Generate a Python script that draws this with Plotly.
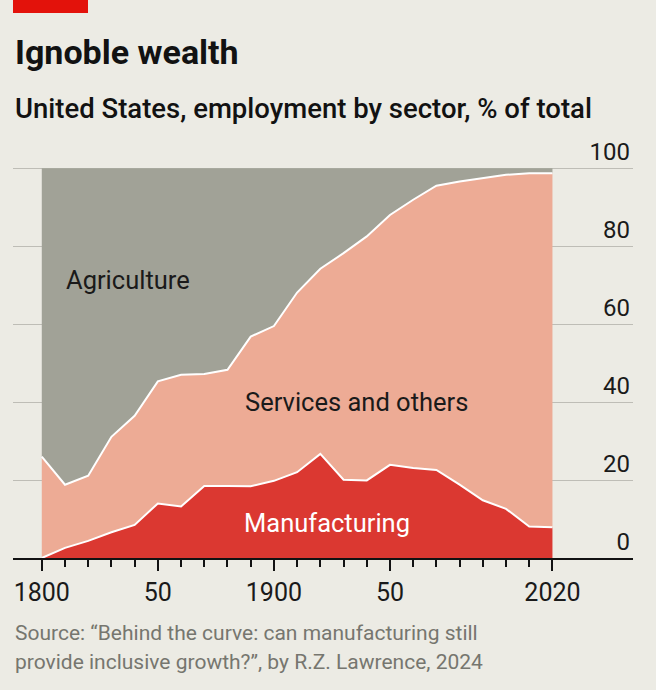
import plotly.graph_objects as go

# employment by sector, % of total
years = list(range(1800, 2021, 10))
manufacturing = [0, 2.6, 4.4, 6.6, 8.5, 14.0, 13.2, 18.5, 18.5, 18.4, 19.8, 22.0,
                 26.7, 20.1, 19.9, 23.9, 23.1, 22.6, 18.8, 14.8, 12.6, 8.1, 7.9]
services = [26.0, 16.2, 16.7, 24.5, 28.0, 31.3, 33.8, 28.7, 29.8, 38.4, 39.7, 46.1,
            47.5, 58.1, 62.6, 64.1, 68.8, 72.9, 77.8, 82.6, 85.7, 90.6, 90.8]
agriculture = [74.0, 81.2, 78.9, 68.9, 63.5, 54.7, 53.0, 52.8, 51.7, 43.2, 40.5, 31.9,
               25.8, 21.8, 17.5, 12.0, 8.1, 4.5, 3.4, 2.6, 1.7, 1.3, 1.3]

x_tickvals = [1800, 1850, 1900, 1950, 2000, 2020]
x_ticktext = ["1800", "50", "1900", "50", "", "2020"]
y_tickvals = [0, 20, 40, 60, 80, 100]

BG = "#ECEBE4"
FONT = "Roboto"
W, H = 656, 690
M_L, M_R, M_T, M_B = 13, 23, 137, 132
PLOT_H = H - M_T - M_B
PLOT_W = W - M_L - M_R


def py(p):
    # pixel row -> paper y
    return (H - M_B - p) / PLOT_H


def px(p):
    return (p - M_L) / PLOT_W


fig = go.Figure()
fig.add_trace(go.Scatter(x=years, y=manufacturing, stackgroup="one", mode="lines",
                         fillcolor="#DB3831", line=dict(color="white", width=2)))
fig.add_trace(go.Scatter(x=years, y=services, stackgroup="one", mode="lines",
                         fillcolor="#EDAB95", line=dict(color="white", width=2)))
fig.add_trace(go.Scatter(x=years, y=agriculture, stackgroup="one", mode="lines",
                         fillcolor="#A1A297", line=dict(color="#A1A297", width=0)))

# labels inside the areas
fig.add_annotation(x=1837, y=71.4, text="Agriculture", showarrow=False,
                   font=dict(family=FONT, size=25.5, color="#1a1a1a"))
fig.add_annotation(x=1935.4, y=39.9, text="Services and others", showarrow=False,
                   font=dict(family=FONT, size=25.5, color="#1a1a1a"))
fig.add_annotation(x=1923, y=9.1, text="Manufacturing", showarrow=False,
                   font=dict(family=FONT, size=25.5, color="white"))

# title block
fig.add_annotation(xref="paper", yref="paper", x=px(13), y=py(52), xanchor="left", yanchor="middle",
                   text="<b>Ignoble wealth</b>", showarrow=False,
                   font=dict(family=FONT, size=34, color="#121212"))
fig.add_annotation(xref="paper", yref="paper", x=px(13), y=py(108), xanchor="left", yanchor="middle",
                   text="United States, employment by sector, % of total", showarrow=False,
                   font=dict(family=FONT, size=27.5, color="#121212", weight=500))
fig.add_annotation(xref="paper", yref="paper", x=px(13), y=py(633), xanchor="left", yanchor="middle",
                   text="Source: “Behind the curve: can manufacturing still", showarrow=False,
                   font=dict(family=FONT, size=21, color="#76766f"))
fig.add_annotation(xref="paper", yref="paper", x=px(13), y=py(662), xanchor="left", yanchor="middle",
                   text="provide inclusive growth?”, by R.Z. Lawrence, 2024", showarrow=False,
                   font=dict(family=FONT, size=21, color="#76766f"))

# red tag top left
fig.add_shape(type="rect", xref="paper", yref="paper", x0=px(13), x1=px(88), y0=py(13), y1=py(0),
              fillcolor="#E3120B", line_width=0)

fig.update_xaxes(range=[1787.6, 2054.7], tickvals=x_tickvals, ticktext=x_ticktext,
                 ticks="outside", ticklen=11, tickwidth=1.5, tickcolor="#121212",
                 showline=True, linecolor="#121212", linewidth=2, showgrid=False,
                 zeroline=False, ticklabelstandoff=0,
                 minor=dict(tickvals=years, ticks="outside", ticklen=7, tickwidth=1.5,
                            tickcolor="#121212", showgrid=False),
                 tickfont=dict(family=FONT, size=25, color="#1a1a1a"))
fig.update_yaxes(range=[0, 108], tickvals=y_tickvals, side="right",
                 ticklabelposition="inside top", showgrid=True, gridcolor="#BEBDB6",
                 gridwidth=1, zeroline=False, showline=False, ticks="",
                 tickfont=dict(family=FONT, size=24, color="#1a1a1a"))

fig.update_layout(width=W, height=H, showlegend=False,
                  paper_bgcolor=BG, plot_bgcolor=BG,
                  margin=dict(l=M_L, r=M_R, t=M_T, b=M_B))

fig.write_html("out.html", config={"displayModeBar": False},
               post_script="document.body.style.margin='0';")
